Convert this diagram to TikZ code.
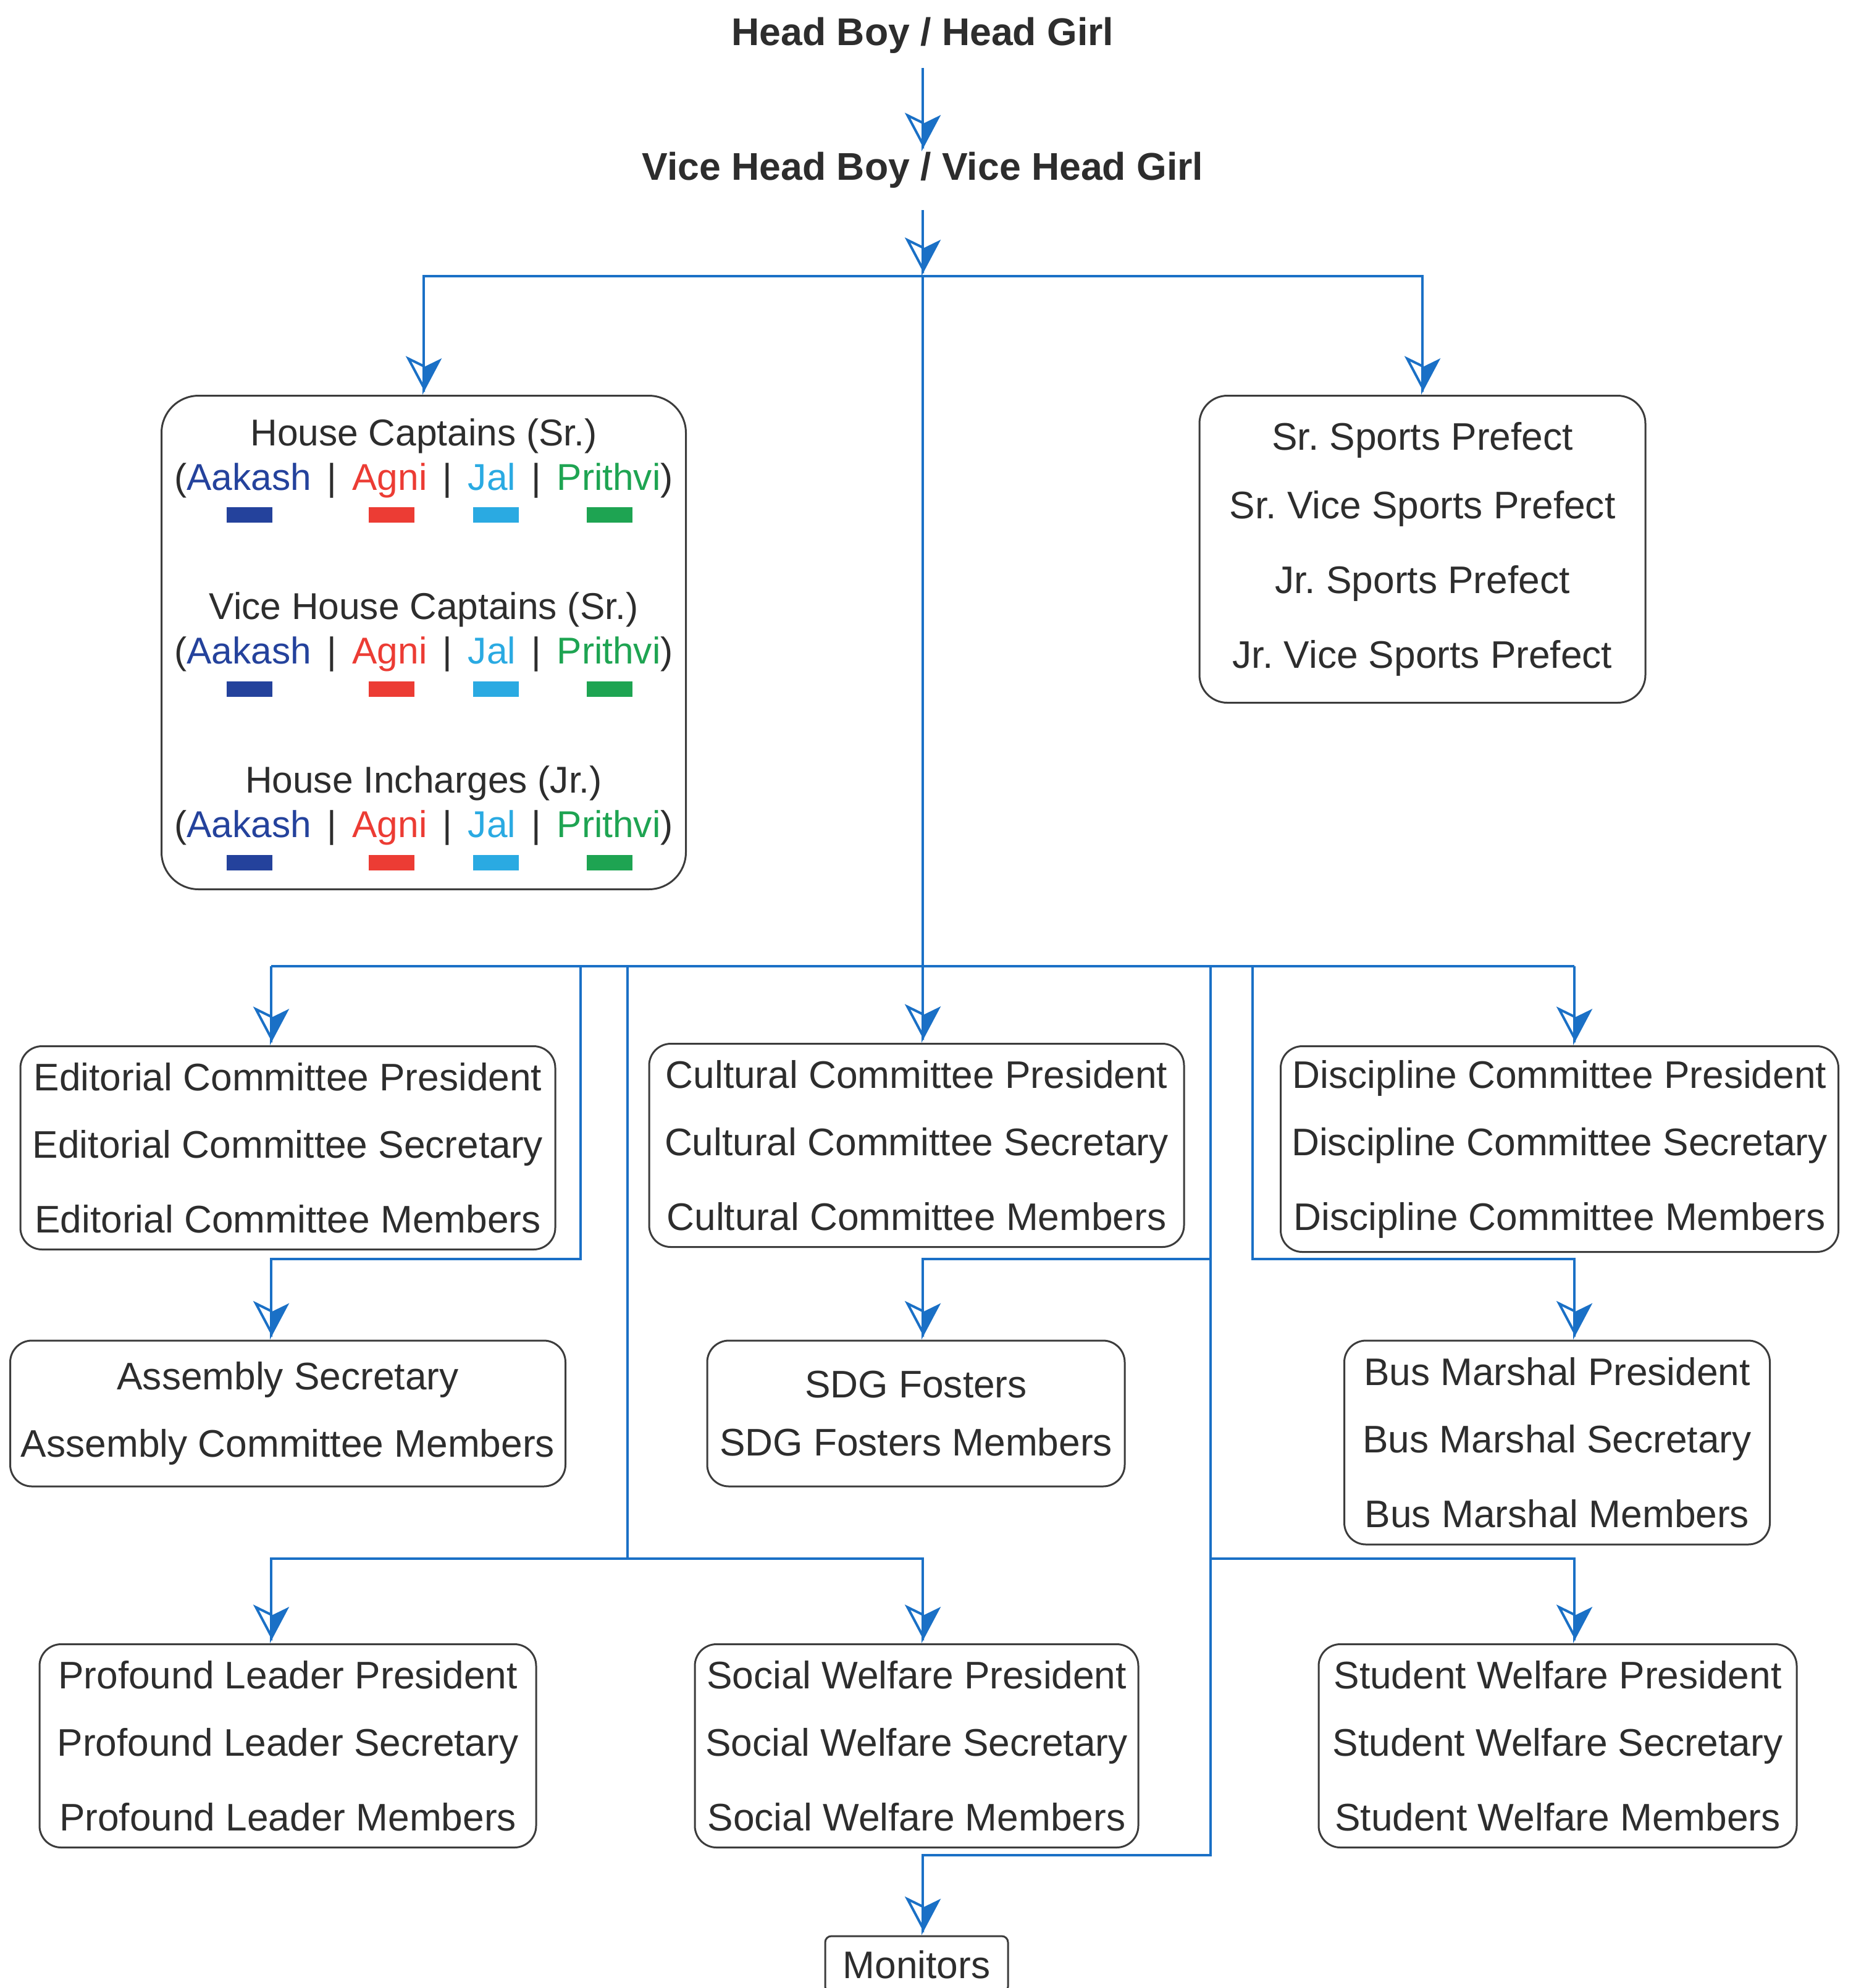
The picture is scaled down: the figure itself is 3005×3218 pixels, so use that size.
\documentclass[tikz,border=0pt]{standalone}
\usepackage{fontspec}
\setmainfont{Liberation Sans}
\usetikzlibrary{arrows.meta}
\frenchspacing

\definecolor{linkblue}{RGB}{26,112,198}
\definecolor{textgray}{RGB}{45,45,45}
\definecolor{boxgray}{RGB}{60,60,60}
\definecolor{aakash}{RGB}{36,66,156}
\definecolor{agni}{RGB}{236,60,52}
\definecolor{jal}{RGB}{42,170,226}
\definecolor{prithvi}{RGB}{30,164,82}

\newcommand{\housesep}{\hspace{0.42em}|\hspace{0.42em}}
\newcommand{\housenames}{(\textcolor{aakash}{Aakash}\housesep\textcolor{agni}{Agni}\housesep\textcolor{jal}{Jal}\housesep\textcolor{prithvi}{Prithvi})}

\begin{document}
\begin{tikzpicture}[
	x=0.1mm, y=-0.1mm,
	title/.style={
		text=textgray,
		font=\fontsize{17.8pt}{21pt}\selectfont\bfseries,
		inner sep=0pt
	},
	post/.style={
		rectangle,
		draw=boxgray,
		line width=0.3mm,
		align=center,
		rounded corners=3.5mm,
		text=textgray,
		font=\fontsize{17.7pt}{21pt}\selectfont,
		inner sep=1mm
	},
	houseline/.style={
		text=textgray,
		font=\fontsize{17.2pt}{21pt}\selectfont,
		inner sep=0pt
	},
	bar/.style={
		rectangle,
		minimum width=7.4mm,
		minimum height=2.5mm,
		inner sep=0pt
	},
	wire/.style={
		draw=linkblue,
		line width=0.4mm
	},
	link/.style={
		draw=linkblue,
		line width=0.4mm,
		-{Stealth[open, harpoon, swap, length=5.5mm, width=5.8mm, inset=1.4mm, sep=-5.5mm]Stealth[harpoon, length=5.5mm, width=5.8mm, inset=1.4mm]}
	},
]
\useasboundingbox (0,0) rectangle (3005,3218);

\node[title] (hb) at (1494, 57) {Head Boy / Head Girl};
\node[title] (vhb) at (1494, 275) {Vice Head Boy / Vice Head Girl};

% house box
\node[post, rounded corners=6mm, minimum width=84.9mm, minimum height=79.9mm] (house) at (686, 1040) {};
\node[houseline] (hcap) at (686, 706) {House Captains (Sr.)};
\node[houseline] (hcapn) at (686, 778) {\housenames};
\node[houseline] (vcap) at (686, 987) {Vice House Captains (Sr.)};
\node[houseline] (vcapn) at (686, 1059) {\housenames};
\node[houseline] (hinc) at (686, 1268) {House Incharges (Jr.)};
\node[houseline] (hincn) at (686, 1340) {\housenames};

\node[bar, fill=aakash] (b11) at (404, 833) {};
\node[bar, fill=agni] (b12) at (634, 833) {};
\node[bar, fill=jal] (b13) at (803, 833) {};
\node[bar, fill=prithvi] (b14) at (987, 833) {};
\node[bar, fill=aakash] (b21) at (404, 1115) {};
\node[bar, fill=agni] (b22) at (634, 1115) {};
\node[bar, fill=jal] (b23) at (803, 1115) {};
\node[bar, fill=prithvi] (b24) at (987, 1115) {};
\node[bar, fill=aakash] (b31) at (404, 1396) {};
\node[bar, fill=agni] (b32) at (634, 1396) {};
\node[bar, fill=jal] (b33) at (803, 1396) {};
\node[bar, fill=prithvi] (b34) at (987, 1396) {};

\node[post, rounded corners=4.5mm, minimum width=72.2mm, minimum height=49.7mm] (sports) at (2303, 889)
	{Sr. Sports Prefect \\[10.5pt] Sr. Vice Sports Prefect \\[13.4pt] Jr. Sports Prefect \\[13.4pt] Jr. Vice Sports Prefect};

% committees
\node[post, minimum width=86.6mm, minimum height=32.9mm] (ed) at (466, 1858)
	{Editorial Committee President \\[10pt] Editorial Committee Secretary \\[13.4pt] Editorial Committee Members};
\node[post, minimum width=86.6mm, minimum height=32.9mm] (cul) at (1484, 1854)
	{Cultural Committee President \\[10pt] Cultural Committee Secretary \\[13.4pt] Cultural Committee Members};
\node[post, minimum width=90.3mm, minimum height=33.3mm] (dis) at (2525, 1860)
	{Discipline Committee President \\[10pt] Discipline Committee Secretary \\[13.4pt] Discipline Committee Members};

\node[post, minimum width=89.9mm, minimum height=23.6mm] (asm) at (466, 2288)
	{Assembly Secretary \\[10pt] Assembly Committee Members};
\node[post, minimum width=67.6mm, minimum height=23.6mm] (sdg) at (1483, 2288)
	{SDG Fosters \\[5.8pt] SDG Fosters Members};
\node[post, minimum width=68.9mm, minimum height=33mm] (bus) at (2521, 2335)
	{Bus Marshal President \\[10pt] Bus Marshal Secretary \\[13.4pt] Bus Marshal Members};

\node[post, minimum width=80.4mm, minimum height=32.9mm] (prof) at (466, 2826)
	{Profound Leader President \\[10pt] Profound Leader Secretary \\[13.4pt] Profound Leader Members};
\node[post, minimum width=71.8mm, minimum height=32.9mm] (soc) at (1484, 2826)
	{Social Welfare President \\[10pt] Social Welfare Secretary \\[13.4pt] Social Welfare Members};
\node[post, minimum width=77.4mm, minimum height=32.9mm] (stu) at (2522, 2826)
	{Student Welfare President \\[10pt] Student Welfare Secretary \\[13.4pt] Student Welfare Members};

\node[post, rounded corners=1mm, minimum width=29.6mm, minimum height=9.2mm] (mon) at (1484, 3180) {Monitors};

% junctions
\coordinate (j1) at (1494, 447);
\coordinate (hub) at (1494, 1564);
\coordinate (cA) at (439, 1564);
\coordinate (cB) at (940, 1564);
\coordinate (cC) at (1016, 1564);
\coordinate (cE) at (1960, 1564);
\coordinate (cF) at (2028, 1564);
\coordinate (cG) at (2549, 1564);
\coordinate (r1) at (0, 2038);
\coordinate (r2) at (0, 2523);
\coordinate (r3) at (0, 3003);

\draw[link, shorten <=2.3mm] (hb) -- (vhb);
\draw[link, shorten <=3.5mm] (vhb) -- (j1);
\draw[link] (j1) -| (house.north);
\draw[link] (j1) -| (sports.north);
\draw[wire] (j1) -- (hub);
\draw[link] (hub) -- (hub |- cul.north);
\draw[wire] (cA) -- (cG);
\draw[link] (cA) -- (cA |- ed.north);
\draw[link] (cG) -- (cG |- dis.north);
\draw[link] (cB) |- (cA |- r1) -- (cA |- asm.north);
\draw[link] (cF) |- (cG |- r1) -- (cG |- bus.north);
\draw[link] (cC) |- (cA |- r2) -- (cA |- prof.north);
\draw[link] (cC |- r2) -| (hub |- soc.north);
\draw[link] (cE |- r1) -| (hub |- sdg.north);
\draw[link] (cE |- r2) -| (cG |- stu.north);
\draw[link] (cE) |- (hub |- r3) -- (hub |- mon.north);

\end{tikzpicture}
\end{document}
